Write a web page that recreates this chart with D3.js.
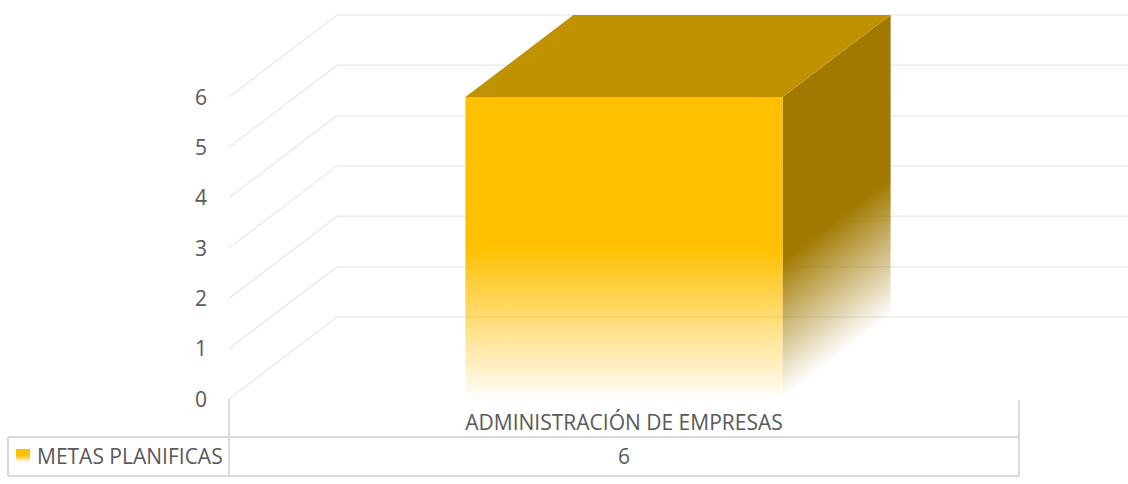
<!DOCTYPE html>
<html>
<head>
<meta charset="utf-8">
<script src="https://cdn.jsdelivr.net/npm/d3@7"></script>
<style>
  body { margin: 0; background: #fff; }
  text { font-family: 'Open Sans', Lato, sans-serif; fill: #595959; }
</style>
</head>
<body>
<div id="chart"></div>
<script>
const categories = ['ADMINISTRACIÓN DE EMPRESAS']
const seriesName = 'METAS PLANIFICAS'
const values = [6]
const yTicks = [0, 1, 2, 3, 4, 5, 6]

const dimensions = {
  width: 1128,
  height: 484,
  plotLeft: 229,
  plotRight: 1019,
  front: { top: 97, bottom: 399 },
  depth: { dx: 108, dy: -82 },
  table: { left: 8, catTop: 400, mid: 437, bottom: 476 }
}
const GRID = '#ebebeb'
const TABLE = '#d9d9d9'
const FONT_SIZE = 21

const svg = d3.select('#chart').append('svg')
  .attr('width', dimensions.width)
  .attr('height', dimensions.height)

const defs = svg.append('defs')

const frontGrad = defs.append('linearGradient')
  .attr('id', 'frontGrad')
  .attr('x1', 0).attr('y1', 0).attr('x2', 0).attr('y2', 1)
frontGrad.append('stop').attr('offset', 0.5).attr('stop-color', '#ffc000').attr('stop-opacity', 1)
frontGrad.append('stop').attr('offset', 1).attr('stop-color', '#ffc000').attr('stop-opacity', 0.02)

const yScale = d3.scaleLinear()
  .domain([0, 6])
  .range([dimensions.front.bottom, dimensions.front.top])

const xScale = d3.scaleBand()
  .domain(categories)
  .range([dimensions.plotLeft, dimensions.plotRight])
  .paddingInner(0.427)
  .paddingOuter(0.427)

const { dx, dy } = dimensions.depth

// walls / gridlines
const grid = svg.append('g')
grid.selectAll('line.side')
  .data(yTicks)
  .join('line')
  .attr('class', 'side')
  .attr('x1', dimensions.plotLeft)
  .attr('y1', d => yScale(d))
  .attr('x2', dimensions.plotLeft + dx)
  .attr('y2', d => yScale(d) + dy)
  .attr('stroke', GRID)
  .attr('stroke-width', 1.5)
grid.selectAll('line.back')
  .data(yTicks)
  .join('line')
  .attr('class', 'back')
  .attr('x1', dimensions.plotLeft + dx)
  .attr('y1', d => yScale(d) + dy)
  .attr('x2', dimensions.width)
  .attr('y2', d => yScale(d) + dy)
  .attr('stroke', GRID)
  .attr('stroke-width', 1.5)

// y axis labels
svg.append('g')
  .selectAll('text')
  .data(yTicks)
  .join('text')
  .attr('x', 207)
  .attr('y', d => yScale(d) + 2)
  .attr('text-anchor', 'end')
  .attr('dominant-baseline', 'middle')
  .attr('font-size', FONT_SIZE)
  .text(d => d)

// bars
const bars = svg.append('g')
categories.forEach((c, i) => {
  const x0 = xScale(c)
  const x1 = x0 + xScale.bandwidth()
  const yTop = yScale(values[i])
  const yBot = yScale(0)

  const sideGrad = defs.append('linearGradient')
    .attr('id', 'sideGrad' + i)
    .attr('gradientUnits', 'userSpaceOnUse')
    .attr('x1', x1 - 67).attr('y1', yBot - 88)
    .attr('x2', x1).attr('y2', yBot)
  sideGrad.append('stop').attr('offset', 0).attr('stop-color', '#a17900').attr('stop-opacity', 1)
  sideGrad.append('stop').attr('offset', 1).attr('stop-color', '#a17900').attr('stop-opacity', 0)

  // right side
  bars.append('path')
    .attr('d', `M${x1},${yTop}L${x1 + dx},${yTop + dy}L${x1 + dx},${yBot + dy}L${x1},${yBot}Z`)
    .attr('fill', `url(#sideGrad${i})`)
  // top
  bars.append('path')
    .attr('d', `M${x0},${yTop}L${x0 + dx},${yTop + dy}L${x1 + dx},${yTop + dy}L${x1},${yTop}Z`)
    .attr('fill', '#c19200')
  // front
  bars.append('rect')
    .attr('x', x0)
    .attr('y', yTop)
    .attr('width', x1 - x0)
    .attr('height', yBot - yTop)
    .attr('fill', 'url(#frontGrad)')
})

// data table
const t = dimensions.table
const table = svg.append('g')
  .attr('stroke', TABLE)
  .attr('stroke-width', 2)
table.append('line').attr('x1', t.left).attr('x2', dimensions.plotRight).attr('y1', t.mid).attr('y2', t.mid)
table.append('line').attr('x1', t.left).attr('x2', dimensions.plotRight).attr('y1', t.bottom).attr('y2', t.bottom)
table.append('line').attr('x1', t.left).attr('x2', t.left).attr('y1', t.mid).attr('y2', t.bottom)
table.append('line').attr('x1', dimensions.plotLeft).attr('x2', dimensions.plotLeft).attr('y1', yScale(0)).attr('y2', t.bottom)
table.append('line').attr('x1', dimensions.plotRight).attr('x2', dimensions.plotRight).attr('y1', t.catTop).attr('y2', t.bottom)

svg.append('g')
  .selectAll('text')
  .data(categories)
  .join('text')
  .attr('x', d => xScale(d) + xScale.bandwidth() / 2)
  .attr('y', (t.catTop + t.mid) / 2 + 6)
  .attr('text-anchor', 'middle')
  .attr('dominant-baseline', 'middle')
  .attr('font-size', FONT_SIZE)
  .text(d => d)

svg.append('g')
  .selectAll('text')
  .data(values)
  .join('text')
  .attr('x', (d, i) => xScale(categories[i]) + xScale.bandwidth() / 2)
  .attr('y', (t.mid + t.bottom) / 2 + 2)
  .attr('text-anchor', 'middle')
  .attr('dominant-baseline', 'middle')
  .attr('font-size', FONT_SIZE)
  .text(d => d)

// legend key
svg.append('rect')
  .attr('x', 16)
  .attr('y', 449)
  .attr('width', 14)
  .attr('height', 13)
  .attr('fill', 'url(#frontGrad)')
svg.append('text')
  .attr('x', 37)
  .attr('y', (t.mid + t.bottom) / 2 + 2)
  .attr('dominant-baseline', 'middle')
  .attr('font-size', FONT_SIZE)
  .text(seriesName)
</script>
</body>
</html>
